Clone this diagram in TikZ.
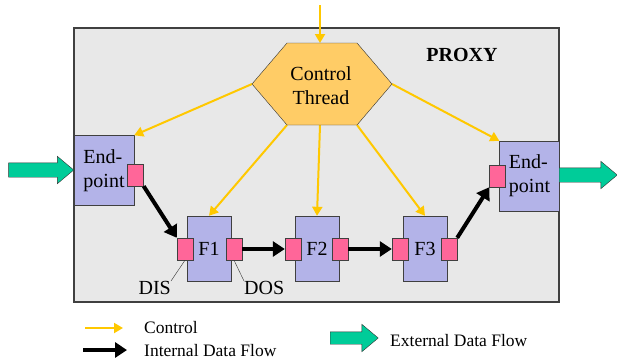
\documentclass[tikz,border=0pt]{standalone}
\usepackage{fontspec}
\setmainfont{Liberation Serif}
\usetikzlibrary{arrows.meta,shapes.arrows}
\definecolor{proxygray}{HTML}{E8E8E8}
\definecolor{boxblue}{HTML}{B3B3E8}
\definecolor{portpink}{HTML}{FF6699}
\definecolor{hexorange}{HTML}{FFCC66}
\definecolor{ctrlyellow}{HTML}{FFC800}
\definecolor{extgreen}{HTML}{00CC99}
\tikzset{
  filt/.style={draw=black!75, fill=boxblue, minimum width=44pt, minimum height=65pt, inner sep=0pt},
  endpt/.style={draw=black!75, fill=boxblue, minimum width=60pt, minimum height=70pt, inner sep=0pt, align=left},
  port/.style={draw=black!75, fill=portpink, minimum width=16pt, minimum height=22pt, inner sep=0pt},
  ctrl/.style={draw=ctrlyellow, line width=2pt, -{Triangle[length=9pt,width=10pt]}},
  data/.style={draw=black, line width=4pt, -{Triangle[length=12pt,width=15pt]}},
  extflow/.style={single arrow, draw=black!80, fill=extgreen, inner xsep=0pt, inner ysep=7pt,
    single arrow head extend=6.5pt, single arrow tip angle=80},
  big/.style={font=\fontsize{20}{24}\selectfont},
  small/.style={font=\fontsize{17.5}{20}\selectfont, inner sep=0pt, anchor=west},
}
\begin{document}
\begin{tikzpicture}[x=1pt,y=-1pt]
  \useasboundingbox (0,0) rectangle (617,362);
  % proxy frame
  \draw[draw=black!75, fill=proxygray, line width=1.2pt] (74,28) rectangle (559,302);
  \node[big, font=\fontsize{20}{24}\selectfont\bfseries] (proxy) at (462,55) {PROXY};
  % control thread corners
  \path
    (320,5) coordinate (top)
    (320,43) coordinate (ctn)
    (287,43) coordinate (ctnw)
    (357,43) coordinate (ctne)
    (392,84) coordinate (cte)
    (357,125) coordinate (ctse)
    (320,125) coordinate (cts)
    (287,125) coordinate (ctsw)
    (252,84) coordinate (ctw);
  % boxes
  \path
    (104,170.5) node[endpt, big] (ep1){End-\\point}
    (529.5,176) node[endpt, big] (ep2){End-\\point}
    (209,248.5) node[filt, big] (f1){F1}
    (317,248.5) node[filt, big] (f2){F2}
    (425,248.5) node[filt, big] (f3){F3};
  \path
    (135.5,175) node[port] (ep1p){}
    (497.5,176) node[port] (ep2p){}
    (185,249) node[port] (f1i){}
    (234,249) node[port] (f1o){}
    (293,249) node[port] (f2i){}
    (340,249) node[port] (f2o){}
    (400,249) node[port] (f3i){}
    (449,249) node[port] (f3o){};
  % control
  \begin{scope}[ctrl]
    \draw (top) to (ctn);
    \draw (ctw) to (ep1.north east);
    \draw (cte) to (ep2.north west);
    \draw (ctsw) to (f1.north);
    \draw (cts) to (f2.north);
    \draw (ctse) to (f3.north);
  \end{scope}
  \draw[draw=black!80, fill=hexorange] (ctnw) -- (ctne) -- (cte) -- (ctse) -- (ctsw) -- (ctw) -- cycle;
  \node[big, align=center] (ct) at (321,86) {Control\\Thread};
  % internal data flow
  \begin{scope}[data]
    \draw (ep1p.south east) to (f1i.north west);
    \draw (f1o) to (f2i);
    \draw (f2o) to (f3i);
    \draw (f3o.north east) to (ep2p.south west);
  \end{scope}
  % external data flow
  \node[extflow, minimum height=65pt, anchor=tip] (extin) at (74,170) {};
  \node[extflow, minimum height=58pt, anchor=tail] (extout) at (559,175) {};
  % DIS / DOS
  \node[big, inner sep=0pt, anchor=north east] (dis) at (171,281) {DIS};
  \node[big, inner sep=0pt, anchor=north west] (dos) at (244,281) {DOS};
  \draw[black!80] (f1i.south) -- (dis.north east);
  \draw[black!80] (f1o.south) -- (dos.north west);
  % legend
  \path
    (85,328) coordinate (lc1)
    (123,328) coordinate (lc2)
    (83,350) coordinate (ld1)
    (127,350) coordinate (ld2);
  \draw[ctrl] (lc1) -- (lc2);
  \draw[data] (ld1) -- (ld2);
  \node[small] (lctrl) at (144,328) {Control};
  \node[small] (ldata) at (144,351) {Internal Data Flow};
  \node[extflow, minimum height=48pt, inner ysep=6pt, single arrow head extend=7.5pt, anchor=tail] (lext) at (330,338) {};
  \node[small] (lextt) at (390,341) {External Data Flow};
\end{tikzpicture}
\end{document}
